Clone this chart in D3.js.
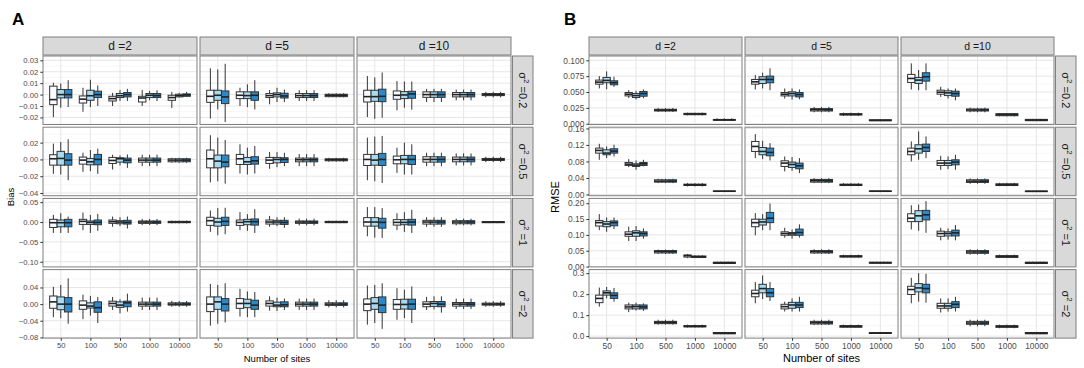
<!DOCTYPE html>
<html>
<head>
<meta charset="utf-8">
<script src="https://cdn.jsdelivr.net/npm/d3@7"></script>
<style>
  body { margin: 0; background: #fff; }
  svg { font-family: "Liberation Sans", Arial, sans-serif; }
</style>
</head>
<body>
<script>
// categories
const sites = ['50', '100', '500', '1000', '10000'];
const dLabels = ['d =2', 'd =5', 'd =10'];
const sigmaLabels = ['0.2', '0.5', '1', '2'];
const groupFills = ['#f7fbff', '#a6dbf2', '#2b88c9'];

// y scales per row (free y per row) and tick labels
const biasDomains = [[-0.0262, 0.0338], [-0.0432, 0.0384], [-0.113, 0.0595], [-0.0817, 0.083]];
const biasTicks = [[-0.02, -0.01, 0, 0.01, 0.02, 0.03], [-0.04, -0.02, 0, 0.02], [-0.10, -0.05, 0, 0.05], [-0.08, -0.04, 0, 0.04]];
const rmseDomains = [[-0.0012, 0.1068], [-0.003, 0.163], [-0.001, 0.2152], [-0.0095, 0.317]];
const rmseTicks = [[0, 0.025, 0.05, 0.075, 0.1], [0, 0.04, 0.08, 0.12, 0.16], [0, 0.05, 0.1, 0.15, 0.2], [0, 0.1, 0.2, 0.3]];

// same box read for the three groups
let tri = (b) => [b, b, b];

// box stats: [lower whisker, q1, median, q3, upper whisker]
// row arrays -> [d=2, d=5, d=10] -> sites -> groups
const biasS02 = [
  [
    [[-0.0197, -0.0088, -0.0044, 0.0074, 0.0103], [-0.0115, -0.0029, 0.0, 0.0044, 0.0097], [-0.0109, -0.0029, 0.0, 0.0044, 0.0126]],
    [[-0.015, -0.0074, -0.004, -0.0012, 0.006], [-0.011, -0.005, -0.001, 0.0038, 0.013], [-0.010, -0.0026, 0.0, 0.003, 0.008]],
    [[-0.010, -0.0056, -0.0035, -0.0015, 0.0015], [-0.0056, -0.0026, -0.001, 0.001, 0.004], [-0.0056, -0.002, 0.0, 0.0018, 0.005]],
    [[-0.010, -0.0065, -0.003, -0.0015, 0.004], [-0.005, -0.0026, -0.0006, 0.0009, 0.0032], [-0.0056, -0.0026, -0.0009, 0.0009, 0.0038]],
    [[-0.0118, -0.005, -0.0026, -0.0006, 0.0024], [-0.0026, -0.002, -0.0009, 0.0003, 0.0015], [-0.002, -0.0015, -0.0003, 0.0006, 0.0024]]
  ],
  [
    [[-0.021, -0.0068, -0.0015, 0.0038, 0.023], [-0.013, -0.005, -0.0006, 0.0038, 0.022], [-0.024, -0.0079, -0.002, 0.0032, 0.027]],
    [[-0.010, -0.0035, -0.0006, 0.0024, 0.006], [-0.011, -0.0035, -0.0009, 0.0024, 0.009], [-0.013, -0.005, -0.0006, 0.0024, 0.0126]],
    [[-0.0085, -0.0026, -0.0009, 0.0009, 0.004], [-0.0065, -0.002, 0.0, 0.0015, 0.006], [-0.0065, -0.003, -0.0012, 0.0012, 0.0044]],
    tri([-0.0056, -0.0026, -0.0009, 0.0009, 0.0038]),
    tri([-0.0024, -0.0018, -0.0006, 0.0003, 0.0012])
  ],
  [
    [[-0.0197, -0.0065, -0.0018, 0.0038, 0.0162], [-0.0212, -0.0059, -0.0018, 0.0038, 0.015], [-0.0203, -0.0062, -0.0015, 0.0047, 0.0194]],
    [[-0.0138, -0.0041, -0.0006, 0.0032, 0.0118], [-0.0115, -0.0035, -0.0003, 0.0026, 0.0115], [-0.0132, -0.0032, 0.0006, 0.0029, 0.0115]],
    tri([-0.0065, -0.0024, 0.0, 0.0024, 0.005]),
    tri([-0.005, -0.002, 0.0, 0.0018, 0.0044]),
    tri([-0.0024, -0.0009, 0.0, 0.0009, 0.0024])
  ]
];
const biasS05 = [
  [
    [[-0.0172, -0.0068, 0.0008, 0.0056, 0.0188], [-0.018, -0.0068, 0.0012, 0.0096, 0.0208], [-0.0248, -0.0068, -0.0008, 0.0068, 0.024]],
    [[-0.0148, -0.0056, -0.0008, 0.0028, 0.008], [-0.014, -0.0064, -0.0028, 0.0012, 0.0112], [-0.0172, -0.0064, 0.0, 0.006, 0.0128]],
    [[-0.012, -0.0048, -0.0012, 0.0024, 0.0056], [-0.0072, -0.0032, 0.0008, 0.002, 0.0048], [-0.01, -0.004, -0.0008, 0.0016, 0.006]],
    tri([-0.008, -0.0032, -0.0008, 0.0016, 0.0056]),
    tri([-0.004, -0.0028, -0.0008, 0.0008, 0.002])
  ],
  [
    [[-0.0272, -0.01, 0.0008, 0.0112, 0.0288], [-0.026, -0.01, -0.002, 0.0052, 0.026], [-0.0288, -0.0088, -0.0032, 0.0052, 0.0232]],
    [[-0.0168, -0.006, 0.0008, 0.006, 0.018], [-0.018, -0.006, -0.0028, 0.0024, 0.014], [-0.0168, -0.0056, -0.0016, 0.0032, 0.016]],
    [[-0.0112, -0.0048, -0.0008, 0.0024, 0.0088], [-0.0092, -0.004, 0.0, 0.0024, 0.0088], [-0.008, -0.0036, 0.0, 0.002, 0.008]],
    tri([-0.008, -0.0028, -0.0004, 0.0016, 0.0064]),
    tri([-0.0028, -0.0016, -0.0004, 0.0008, 0.002])
  ],
  [
    [[-0.0248, -0.0072, 0.0, 0.006, 0.026], [-0.026, -0.0068, -0.0008, 0.006, 0.0272], [-0.028, -0.0072, 0.0, 0.0072, 0.028]],
    [[-0.016, -0.0052, -0.0004, 0.004, 0.014], [-0.018, -0.0052, 0.0, 0.0048, 0.02], [-0.018, -0.006, 0.0, 0.0048, 0.018]],
    tri([-0.008, -0.0032, 0.0, 0.0032, 0.008]),
    tri([-0.0072, -0.0028, 0.0, 0.0028, 0.0072]),
    tri([-0.0032, -0.0012, 0.0, 0.0012, 0.0032])
  ]
];
const biasS1 = [
  [
    [[-0.0274, -0.0137, -0.0017, 0.0068, 0.018], [-0.0274, -0.012, -0.0017, 0.0051, 0.0222], [-0.0274, -0.012, -0.0017, 0.0068, 0.0137]],
    [[-0.0205, -0.006, 0.0017, 0.0068, 0.0239], [-0.0274, -0.006, -0.0009, 0.0026, 0.018], [-0.0222, -0.0068, -0.0009, 0.0051, 0.0205]],
    [[-0.012, -0.0034, 0.0009, 0.0051, 0.0137], [-0.0103, -0.0043, 0.0, 0.0034, 0.012], [-0.0162, -0.0051, -0.0009, 0.0043, 0.0137]],
    tri([-0.0077, -0.0034, 0.0, 0.0026, 0.0077]),
    tri([-0.0034, -0.0017, 0.0, 0.0017, 0.0034])
  ],
  [
    [[-0.0248, -0.0085, 0.0034, 0.012, 0.029], [-0.0333, -0.0103, 0.0, 0.0094, 0.035], [-0.0308, -0.0085, 0.0017, 0.012, 0.0359]],
    [[-0.0205, -0.0085, -0.0009, 0.0051, 0.0248], [-0.0222, -0.0068, 0.0009, 0.0068, 0.0197], [-0.0274, -0.0077, 0.0009, 0.0077, 0.0325]],
    [[-0.012, -0.0051, 0.0, 0.0051, 0.0154], [-0.0103, -0.0051, 0.0, 0.0043, 0.012], [-0.0145, -0.006, -0.0009, 0.0043, 0.012]],
    tri([-0.0085, -0.0034, 0.0, 0.0026, 0.0085]),
    tri([-0.0026, -0.0017, 0.0, 0.0017, 0.0034])
  ],
  [
    [[-0.0359, -0.0103, 0.0, 0.0111, 0.0376], [-0.0393, -0.0103, 0.0, 0.0111, 0.0376], [-0.0402, -0.0154, -0.0009, 0.0094, 0.035]],
    [[-0.0205, -0.0077, -0.0009, 0.006, 0.0222], [-0.0248, -0.0068, -0.0009, 0.006, 0.0248], [-0.0274, -0.0077, 0.0, 0.0068, 0.0308]],
    tri([-0.012, -0.0051, 0.0, 0.0043, 0.012]),
    tri([-0.0085, -0.0043, 0.0, 0.0034, 0.0085]),
    tri([-0.0026, -0.0017, 0.0, 0.0009, 0.0026])
  ]
];
const biasS2 = [
  [
    [[-0.0314, -0.010, 0.0054, 0.0195, 0.0415], [-0.0337, -0.0135, 0.0, 0.0173, 0.0463], [-0.0471, -0.0188, 0.0, 0.0157, 0.062]],
    [[-0.0361, -0.0125, -0.0024, 0.0078, 0.0227], [-0.0275, -0.0094, -0.0047, 0.0031, 0.0196], [-0.0455, -0.0196, -0.0086, 0.0055, 0.0173]],
    [[-0.0141, -0.0047, 0.0016, 0.0071, 0.0173], [-0.022, -0.0078, -0.0024, 0.0055, 0.0118], [-0.018, -0.0063, 0.0031, 0.0071, 0.0251]],
    tri([-0.0141, -0.0047, 0.0, 0.0047, 0.0157]),
    tri([-0.0063, -0.0024, 0.0, 0.0031, 0.0078])
  ],
  [
    [[-0.0518, -0.018, 0.0, 0.0173, 0.0486], [-0.0471, -0.0125, 0.0055, 0.0173, 0.0463], [-0.0439, -0.0165, 0.0, 0.0133, 0.0502]],
    [[-0.0298, -0.0102, 0.0016, 0.0133, 0.0369], [-0.0314, -0.0086, 0.0016, 0.0118, 0.0306], [-0.0314, -0.0125, -0.0024, 0.0094, 0.029]],
    [[-0.0157, -0.0047, 0.0016, 0.0078, 0.0188], [-0.0165, -0.0063, -0.0024, 0.0047, 0.0157], [-0.0141, -0.0063, -0.0016, 0.0055, 0.0133]],
    tri([-0.0141, -0.0047, 0.0, 0.0047, 0.0133]),
    tri([-0.0078, -0.0031, 0.0, 0.0031, 0.0094])
  ],
  [
    [[-0.0494, -0.0157, 0.0, 0.0125, 0.0447], [-0.0455, -0.0125, 0.0016, 0.0157, 0.0463], [-0.0596, -0.0204, -0.0024, 0.0173, 0.0502]],
    [[-0.0376, -0.0125, -0.0008, 0.011, 0.0384], [-0.0337, -0.0118, -0.0008, 0.0118, 0.0345], [-0.0455, -0.0125, 0.0, 0.0118, 0.0424]],
    [[-0.0141, -0.0063, 0.0, 0.0055, 0.0173], [-0.0125, -0.0055, 0.0016, 0.0063, 0.0188], [-0.0204, -0.0063, 0.0, 0.0063, 0.0188]],
    tri([-0.0118, -0.0047, 0.0, 0.0039, 0.0133]),
    tri([-0.0063, -0.0024, 0.0, 0.0024, 0.0071])
  ]
];

const rmseS02 = [
  [
    [[0.0556, 0.0624, 0.0656, 0.0688, 0.0751], [0.0545, 0.0646, 0.0683, 0.073, 0.0825], [0.0582, 0.0614, 0.0646, 0.0677, 0.0741]],
    [[0.0407, 0.0439, 0.0466, 0.0492, 0.0529], [0.0381, 0.0413, 0.0444, 0.0476, 0.0519], [0.0402, 0.0434, 0.0476, 0.0508, 0.054]],
    tri([0.0185, 0.0201, 0.0214, 0.0228, 0.0249]),
    tri([0.0132, 0.0143, 0.0153, 0.0164, 0.0175]),
    tri([0.0045, 0.0055, 0.006, 0.0068, 0.0085])
  ],
  [
    [[0.054, 0.0624, 0.0661, 0.0698, 0.0767], [0.0556, 0.0635, 0.0698, 0.0741, 0.0804], [0.0529, 0.0646, 0.0698, 0.0751, 0.0873]],
    [[0.0397, 0.0439, 0.0466, 0.0492, 0.0556], [0.0381, 0.0439, 0.0476, 0.0503, 0.0556], [0.0386, 0.0423, 0.046, 0.0492, 0.054]],
    tri([0.018, 0.0201, 0.0222, 0.0238, 0.0265]),
    tri([0.0122, 0.0138, 0.0148, 0.0159, 0.0175]),
    tri([0.0042, 0.0048, 0.0053, 0.0063, 0.0069])
  ],
  [
    [[0.054, 0.0651, 0.0714, 0.0778, 0.0952], [0.0529, 0.0635, 0.0688, 0.073, 0.0847], [0.0529, 0.0672, 0.0741, 0.0804, 0.0952]],
    [[0.0423, 0.0466, 0.0497, 0.0529, 0.0582], [0.0397, 0.0444, 0.0487, 0.0519, 0.0556], [0.037, 0.0434, 0.0476, 0.0513, 0.0556]],
    tri([0.018, 0.0201, 0.0217, 0.0233, 0.0254]),
    tri([0.0116, 0.0127, 0.0143, 0.0159, 0.0169]),
    tri([0.0042, 0.0048, 0.0058, 0.0069, 0.0074])
  ]
];
const rmseS05 = [
  [
    [[0.084, 0.1002, 0.1067, 0.1123, 0.1228], [0.0881, 0.0962, 0.1002, 0.1083, 0.1164], [0.0921, 0.1002, 0.1051, 0.1107, 0.1204]],
    [[0.0663, 0.0703, 0.0735, 0.0776, 0.0857], [0.0598, 0.0679, 0.0711, 0.0743, 0.0824], [0.0679, 0.0703, 0.0743, 0.0776, 0.084]],
    tri([0.0275, 0.0299, 0.0323, 0.0356, 0.038]),
    tri([0.0194, 0.0218, 0.0234, 0.025, 0.0275]),
    tri([0.0065, 0.0073, 0.0078, 0.0084, 0.009])
  ],
  [
    [[0.0881, 0.1042, 0.1164, 0.1285, 0.1463], [0.0857, 0.0962, 0.1042, 0.1139, 0.1301], [0.0824, 0.0937, 0.1018, 0.1123, 0.1244]],
    [[0.0558, 0.0679, 0.076, 0.0816, 0.0921], [0.0574, 0.0655, 0.0727, 0.0784, 0.0905], [0.0517, 0.0622, 0.0695, 0.076, 0.0881]],
    tri([0.0275, 0.0299, 0.0331, 0.0364, 0.0396]),
    tri([0.0202, 0.0218, 0.0234, 0.025, 0.0275]),
    tri([0.0065, 0.0073, 0.0078, 0.0084, 0.009])
  ],
  [
    [[0.08, 0.0962, 0.1042, 0.1123, 0.1285], [0.084, 0.1002, 0.1107, 0.1204, 0.1527], [0.0881, 0.1042, 0.1139, 0.122, 0.1406]],
    [[0.0598, 0.0703, 0.076, 0.0824, 0.0937], [0.0614, 0.0703, 0.076, 0.0824, 0.0921], [0.0598, 0.0719, 0.0784, 0.084, 0.0962]],
    tri([0.0259, 0.0291, 0.0323, 0.0356, 0.0388]),
    tri([0.0202, 0.0218, 0.0234, 0.0259, 0.0283]),
    tri([0.0062, 0.007, 0.0076, 0.0082, 0.009])
  ]
];
const rmseS1 = [
  [
    [[0.1151, 0.128, 0.1387, 0.1452, 0.1656], [0.1097, 0.1258, 0.1344, 0.1419, 0.1548], [0.1183, 0.129, 0.1387, 0.1441, 0.1548]],
    [[0.0806, 0.0957, 0.1022, 0.1097, 0.1258], [0.0806, 0.0957, 0.1065, 0.1129, 0.128], [0.0882, 0.0968, 0.1043, 0.1097, 0.1204]],
    tri([0.0398, 0.043, 0.0473, 0.0505, 0.0538]),
    [[0.0269, 0.0301, 0.0344, 0.0366, 0.0398], [0.0269, 0.029, 0.0312, 0.0333, 0.0355], [0.0269, 0.029, 0.0312, 0.0333, 0.0355]],
    tri([0.0086, 0.0097, 0.0118, 0.014, 0.0151])
  ],
  [
    [[0.0989, 0.1258, 0.1387, 0.1495, 0.1688], [0.1151, 0.1312, 0.1409, 0.1495, 0.1656], [0.1151, 0.1387, 0.1527, 0.171, 0.1989]],
    [[0.0914, 0.0989, 0.1043, 0.1097, 0.1226], [0.0882, 0.0989, 0.1032, 0.1075, 0.1172], [0.0914, 0.0989, 0.1075, 0.1183, 0.1333]],
    tri([0.0398, 0.043, 0.0473, 0.0505, 0.0548]),
    tri([0.028, 0.0301, 0.0323, 0.0344, 0.0376]),
    tri([0.0097, 0.0108, 0.0118, 0.014, 0.0151])
  ],
  [
    [[0.1172, 0.1419, 0.1527, 0.1667, 0.1935], [0.1129, 0.1419, 0.1602, 0.1763, 0.1957], [0.1065, 0.1473, 0.1634, 0.1774, 0.2065]],
    [[0.0828, 0.0957, 0.1043, 0.1118, 0.1226], [0.0849, 0.0968, 0.1043, 0.1097, 0.1204], [0.0828, 0.0968, 0.1065, 0.1151, 0.1312]],
    tri([0.0376, 0.0419, 0.0462, 0.0505, 0.0548]),
    tri([0.0269, 0.029, 0.0323, 0.0344, 0.0376]),
    tri([0.0086, 0.0097, 0.0118, 0.014, 0.0151])
  ]
];
const rmseS2 = [
  [
    [[0.1406, 0.1594, 0.1797, 0.1953, 0.2313], [0.1797, 0.1953, 0.2063, 0.2156, 0.2344], [0.1641, 0.1797, 0.1938, 0.2063, 0.2297]],
    [[0.1141, 0.1297, 0.1391, 0.1484, 0.1594], [0.1219, 0.1297, 0.1406, 0.1484, 0.1594], [0.1203, 0.1297, 0.1391, 0.1484, 0.1563]],
    tri([0.0547, 0.0594, 0.0656, 0.0703, 0.0781]),
    tri([0.0406, 0.0438, 0.0469, 0.05, 0.0547]),
    tri([0.0094, 0.0109, 0.0141, 0.0172, 0.0188])
  ],
  [
    [[0.1563, 0.1875, 0.2031, 0.2188, 0.2578], [0.1766, 0.2063, 0.2266, 0.2469, 0.2891], [0.1672, 0.1875, 0.2063, 0.2266, 0.2578]],
    [[0.1172, 0.1297, 0.1406, 0.1516, 0.1641], [0.1172, 0.1328, 0.1484, 0.1609, 0.1797], [0.1172, 0.1359, 0.1484, 0.1609, 0.1875]],
    tri([0.0531, 0.0578, 0.0641, 0.0703, 0.0781]),
    tri([0.0406, 0.0422, 0.0469, 0.05, 0.0547]),
    tri([0.0109, 0.0125, 0.0141, 0.0172, 0.0188])
  ],
  [
    [[0.1563, 0.1984, 0.2219, 0.2375, 0.2781], [0.1641, 0.2109, 0.2297, 0.25, 0.30], [0.1594, 0.2063, 0.2266, 0.2469, 0.2969]],
    [[0.1125, 0.1328, 0.1438, 0.1563, 0.1797], [0.1172, 0.1328, 0.1438, 0.1563, 0.1797], [0.1172, 0.1359, 0.1516, 0.1641, 0.1875]],
    tri([0.0469, 0.0563, 0.0625, 0.0703, 0.0781]),
    tri([0.0375, 0.0422, 0.0453, 0.05, 0.0547]),
    tri([0.0094, 0.0109, 0.0141, 0.0172, 0.0188])
  ]
];

// layout
let width = 1084;
let height = 368;
let rowTop = [56, 127.2, 198.4, 269.6];
let rowH = 68.5;
let border = '#7f7f7f';

let svg = d3.select('body').append('svg')
  .attr('width', width)
  .attr('height', height);

let drawGrid = (cfg) => {
  let g = svg.append('g');
  let lastRight = cfg.colLeft[2] + cfg.colW;

  cfg.data.forEach((rowData, r) => {
    let y = d3.scaleLinear().domain(cfg.domains[r]).range([rowTop[r] + rowH, rowTop[r]]);
    let major = cfg.ticks[r];
    let step = major[1] - major[0];
    let minor = [major[0] - step / 2].concat(major.map(v => v + step / 2))
      .filter(v => v > cfg.domains[r][0] && v < cfg.domains[r][1]);

    cfg.colLeft.forEach((left, c) => {
      let x = d3.scalePoint().domain(sites).range([left, left + cfg.colW]).padding(0.6);
      let bw = x.step() * 0.25;
      let panel = g.append('g');

      panel.append('rect')
        .attr('x', left).attr('y', rowTop[r])
        .attr('width', cfg.colW).attr('height', rowH)
        .attr('fill', '#fff');

      // grid lines
      panel.selectAll('line.minor').data(minor).enter().append('line')
        .attr('class', 'minor')
        .attr('x1', left).attr('x2', left + cfg.colW)
        .attr('y1', d => y(d)).attr('y2', d => y(d))
        .attr('stroke', '#f2f2f2').attr('stroke-width', 0.6);
      panel.selectAll('line.major').data(major.filter(v => y(v) > rowTop[r] && y(v) < rowTop[r] + rowH)).enter().append('line')
        .attr('class', 'major')
        .attr('x1', left).attr('x2', left + cfg.colW)
        .attr('y1', d => y(d)).attr('y2', d => y(d))
        .attr('stroke', '#e6e6e6').attr('stroke-width', 1);
      panel.selectAll('line.vmajor').data(sites).enter().append('line')
        .attr('class', 'vmajor')
        .attr('x1', d => x(d)).attr('x2', d => x(d))
        .attr('y1', rowTop[r]).attr('y2', rowTop[r] + rowH)
        .attr('stroke', '#e6e6e6').attr('stroke-width', 1);

      // boxes
      let boxes = rowData[c].flatMap((groups, i) => groups.map((s, k) => ({ site: sites[i], k: k, s: s })));
      let bx = panel.selectAll('g.box').data(boxes).enter().append('g').attr('class', 'box');
      let cx = d => x(d.site) + (d.k - 1) * bw;
      bx.append('line')
        .attr('x1', cx).attr('x2', cx)
        .attr('y1', d => y(d.s[0])).attr('y2', d => y(d.s[4]))
        .attr('stroke', '#333').attr('stroke-width', 1);
      bx.append('rect')
        .attr('x', d => cx(d) - bw / 2)
        .attr('y', d => y(d.s[3]))
        .attr('width', bw)
        .attr('height', d => Math.max(0.5, y(d.s[1]) - y(d.s[3])))
        .attr('fill', d => groupFills[d.k])
        .attr('stroke', '#333').attr('stroke-width', 1);
      bx.append('line')
        .attr('x1', d => cx(d) - bw / 2).attr('x2', d => cx(d) + bw / 2)
        .attr('y1', d => y(d.s[2])).attr('y2', d => y(d.s[2]))
        .attr('stroke', '#222').attr('stroke-width', 1.6);

      panel.append('rect')
        .attr('x', left).attr('y', rowTop[r])
        .attr('width', cfg.colW).attr('height', rowH)
        .attr('fill', 'none').attr('stroke', border).attr('stroke-width', 1);

      // y axis
      if (c === 0) {
        let ya = g.append('g')
          .attr('transform', 'translate(' + left + ',0)')
          .call(d3.axisLeft(y).tickValues(major).tickSize(2.7).tickPadding(2).tickFormat(d3.format(cfg.formats[r])));
        ya.select('.domain').remove();
        ya.selectAll('line').attr('stroke', '#333');
        ya.selectAll('text').attr('fill', '#4d4d4d').style('font-size', cfg.tickFont + 'px').style('font-family', 'Liberation Sans, Arial, sans-serif');
      }
      // x axis
      if (r === 3) {
        let xa = g.append('g')
          .attr('transform', 'translate(0,' + (rowTop[r] + rowH) + ')')
          .call(d3.axisBottom(x).tickSize(2.7).tickPadding(2));
        xa.select('.domain').remove();
        xa.selectAll('line').attr('stroke', '#333');
        xa.selectAll('text').attr('fill', '#4d4d4d').style('font-size', cfg.tickFont + 'px').style('font-family', 'Liberation Sans, Arial, sans-serif');
      }
      // top strip
      if (r === 0) {
        g.append('rect')
          .attr('x', left).attr('y', 37)
          .attr('width', cfg.colW).attr('height', 18)
          .attr('fill', '#d9d9d9').attr('stroke', border).attr('stroke-width', 1);
        g.append('text')
          .attr('x', left + cfg.colW / 2).attr('y', 46)
          .attr('text-anchor', 'middle').attr('dominant-baseline', 'central')
          .attr('fill', '#1a1a1a').style('font-size', cfg.stripFont + 'px')
          .text(dLabels[c]);
      }
    });

    // right strip
    g.append('rect')
      .attr('x', lastRight + 1.5).attr('y', rowTop[r])
      .attr('width', 20.5).attr('height', rowH)
      .attr('fill', '#d9d9d9').attr('stroke', border).attr('stroke-width', 1);
    let st = g.append('text')
      .attr('transform', 'translate(' + (lastRight + 11.5) + ',' + (rowTop[r] + rowH / 2) + ') rotate(90)')
      .attr('text-anchor', 'middle').attr('dominant-baseline', 'central')
      .attr('fill', '#1a1a1a').style('font-size', '11px');
    st.append('tspan').text('\u03c3');
    st.append('tspan').attr('dy', -4).style('font-size', '8px').text('2');
    st.append('tspan').attr('dy', 4).text(' =' + sigmaLabels[r]);
  });

  // titles
  svg.append('text')
    .attr('transform', 'translate(' + cfg.yTitleX + ',197) rotate(-90)')
    .attr('text-anchor', 'middle').attr('dominant-baseline', 'central')
    .attr('fill', '#000').style('font-size', cfg.titleFont + 'px')
    .text(cfg.yTitle);
  svg.append('text')
    .attr('x', cfg.colLeft[1] + cfg.colW / 2).attr('y', 358)
    .attr('text-anchor', 'middle').attr('dominant-baseline', 'central')
    .attr('fill', '#000').style('font-size', cfg.titleFont + 'px')
    .text('Number of sites');
  svg.append('text')
    .attr('x', cfg.tagX).attr('y', 25)
    .attr('fill', '#000').style('font-size', '17px').style('font-weight', 'bold')
    .text(cfg.tag);
};

drawGrid({
  colLeft: [43, 200, 357], colW: 154,
  data: [biasS02, biasS05, biasS1, biasS2],
  domains: biasDomains, ticks: biasTicks,
  formats: ['.2f', '.2f', '.2f', '.2f'],
  tickFont: 7.7, stripFont: 12, titleFont: 9.5,
  yTitle: 'Bias', yTitleX: 10, tag: 'A', tagX: 12
});

drawGrid({
  colLeft: [589, 745, 901], colW: 153,
  data: [rmseS02, rmseS05, rmseS1, rmseS2],
  domains: rmseDomains, ticks: rmseTicks,
  formats: ['.3f', '.2f', '.2f', '.1f'],
  tickFont: 8.4, stripFont: 10.5, titleFont: 11,
  yTitle: 'RMSE', yTitleX: 555, tag: 'B', tagX: 564
});
</script>
</body>
</html>
